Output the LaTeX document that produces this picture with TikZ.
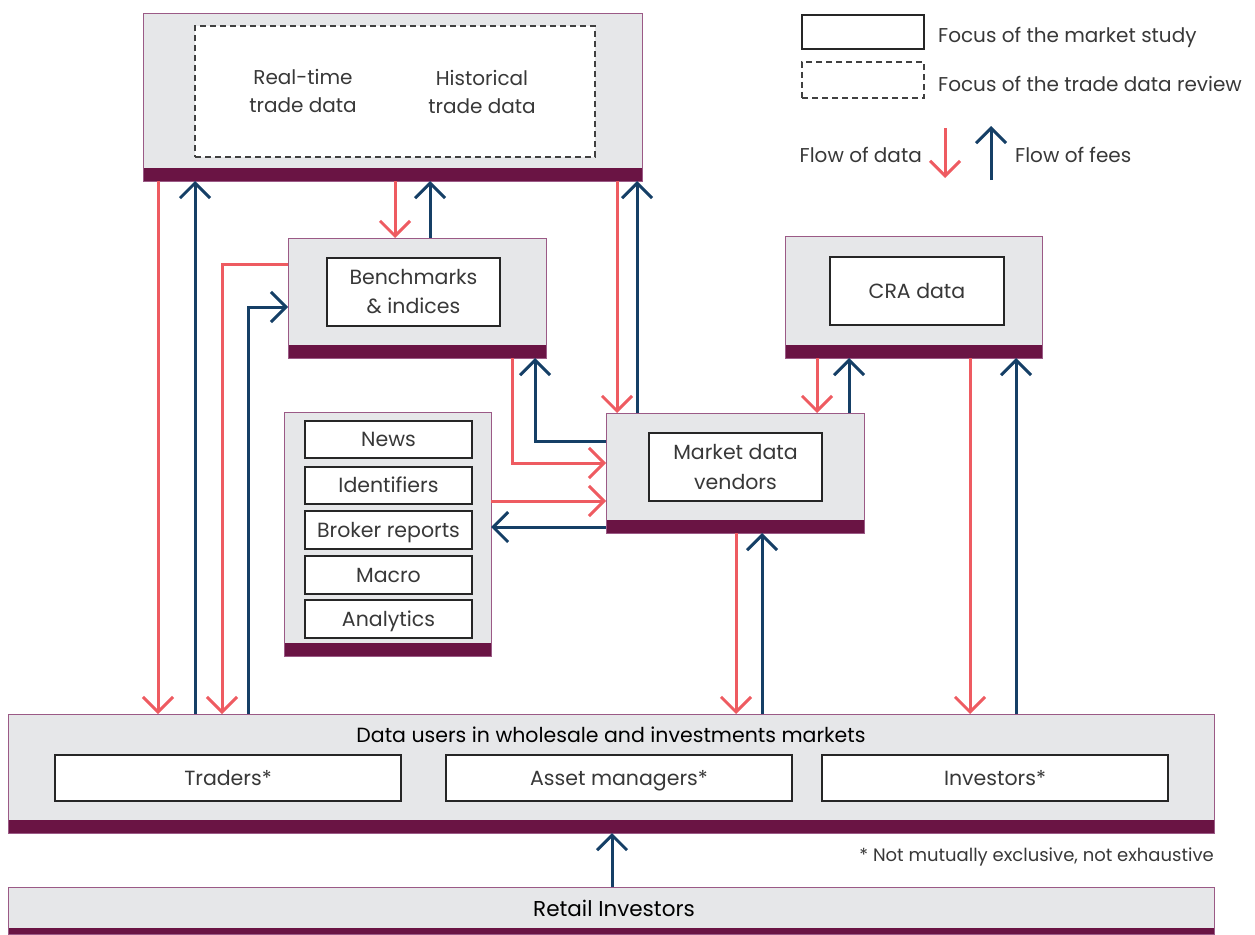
\documentclass[tikz,border=0pt]{standalone}
\usepackage{fontspec}
\setmainfont{Poppins}
\usetikzlibrary{arrows.meta}
\definecolor{fcagray}{HTML}{E6E7E9}
\definecolor{fcapurple}{HTML}{6A1444}
\definecolor{fcaedge}{HTML}{9B5A86}
\definecolor{datared}{HTML}{EE5B61}
\definecolor{feeblue}{HTML}{153F66}
\definecolor{txt}{HTML}{383838}
\begin{document}
\begin{tikzpicture}[x=1pt,y=-1pt,
  lbl/.style={font=\fontsize{20}{28.5}\selectfont, text=txt, align=center, inner sep=0},
  oneline/.style={text height=17pt, text depth=3pt},
  panel/.style={draw=fcaedge, line width=1pt, fill=fcagray, inner sep=0, outer sep=0, anchor=north west,
    path picture={\fill[fcapurple] (path picture bounding box.south west) rectangle ([yshift=13pt]path picture bounding box.south east);}},
  thinpanel/.style={draw=fcaedge, line width=1pt, fill=fcagray, inner sep=0, outer sep=0, anchor=north west,
    path picture={\fill[fcapurple] (path picture bounding box.south west) rectangle ([yshift=6pt]path picture bounding box.south east);}},
  inbox/.style={draw=black!85, line width=1.3pt, fill=white, inner sep=0, outer sep=0, anchor=north west,
    font=\fontsize{20.5}{29}\selectfont, text=txt, align=center},
  dashbox/.style={draw=black!75, line width=1.3pt, dash pattern=on 6pt off 4pt, fill=white, inner sep=0, outer sep=0, anchor=north west},
  dataflow/.style={draw=datared, line width=3pt, -{Straight Barb[length=15pt,width=30pt]}},
  feeflow/.style={draw=feeblue, line width=3pt, -{Straight Barb[length=15pt,width=30pt]}}
]
\useasboundingbox (0,0) rectangle (1255,934);

% top trade data panel
\node[panel, minimum width=499pt, minimum height=167pt] (trade) at (143,14) {};
\node[dashbox, minimum width=400pt, minimum height=131pt] (tdr) at (195,26) {};
\node[lbl] (rt) at (303,91) {Real-time\\trade data};
\node[lbl] (ht) at (482,92) {Historical\\trade data};

% legend
\node[inbox, minimum width=122pt, minimum height=34pt] (lg1) at (802,15) {};
\node[lbl, oneline, anchor=west] (lt1) at (938,36) {Focus of the market study};
\node[dashbox, minimum width=122pt, minimum height=36pt] (lg2) at (802,62) {};
\node[lbl, oneline, anchor=west] (lt2) at (938,85) {Focus of the trade data review};
\node[lbl, oneline, anchor=east] (lt3) at (922,155) {Flow of data};
\node[lbl, oneline, anchor=west] (lt4) at (1015,155) {Flow of fees};
\coordinate (ld1) at (945,128);
\coordinate (ld2) at (945,178);
\coordinate (lf1) at (991,180);
\coordinate (lf2) at (991,126);
\draw[dataflow] (ld1) -- (ld2);
\draw[feeflow] (lf1) -- (lf2);

% benchmarks
\node[panel, minimum width=258pt, minimum height=120pt] (bench) at (288,238) {};
\node[inbox, minimum width=173pt, minimum height=68pt] (benchin) at (327,258) {Benchmarks\\\& indices};

% CRA
\node[panel, minimum width=257pt, minimum height=122pt] (cra) at (785,236) {};
\node[inbox, oneline, minimum width=174pt, minimum height=68pt] (crain) at (830,257) {CRA data};

% market data vendors
\node[panel, minimum width=258pt, minimum height=120pt] (mdv) at (606,413) {};
\node[inbox, minimum width=173pt, minimum height=68pt] (mdvin) at (649,433) {Market data\\[1pt]vendors};

% other data stack
\node[panel, minimum width=207pt, minimum height=244pt] (other) at (284,412) {};
\node[inbox, oneline, minimum width=167pt, minimum height=37pt] (news) at (305,421) {News};
\node[inbox, oneline, minimum width=167pt, minimum height=37pt] (ident) at (305,467) {Identifiers};
\node[inbox, oneline, minimum width=167pt, minimum height=38pt] (broker) at (305,511) {Broker reports};
\node[inbox, oneline, minimum width=167pt, minimum height=38pt] (macro) at (305,556) {Macro};
\node[inbox, oneline, minimum width=167pt, minimum height=38pt] (analytics) at (305,600) {Analytics};

% data users
\node[panel, minimum width=1206pt, minimum height=119pt] (users) at (8,714) {};
\node[lbl, oneline, font=\fontsize{20.5}{28}\selectfont, text=black] (ut) at (611,735) {Data users in wholesale and investments markets};
\node[inbox, oneline, minimum width=346pt, minimum height=46pt] (tr) at (55,755) {Traders*};
\node[inbox, oneline, minimum width=346pt, minimum height=46pt] (am) at (446,755) {Asset managers*};
\node[inbox, oneline, minimum width=346pt, minimum height=46pt] (inv) at (822,755) {Investors*};
\node[lbl, oneline, font=\fontsize{18}{24}\selectfont, anchor=east] (fn) at (1214,854) {* Not mutually exclusive, not exhaustive};

% retail
\node[thinpanel, minimum width=1206pt, minimum height=47pt] (retail) at (8,887) {};
\node[lbl, oneline, font=\fontsize{21.5}{28}\selectfont, text=black] (rtt) at (614,909) {Retail Investors};

% flows
\draw[dataflow] ([xshift=15pt]trade.south west) -- ([xshift=150pt]users.north west);
\draw[feeflow] ([xshift=187pt]users.north west) -- ([xshift=52pt]trade.south west);
\draw[dataflow] ([yshift=-26pt]bench.north west) -| ([xshift=214pt]users.north west);
\draw[feeflow] ([xshift=240pt]users.north west) |- ([yshift=-69pt]bench.north west);
\draw[dataflow] ([xshift=252pt]trade.south west) -- ([xshift=107pt]bench.north west);
\draw[feeflow] ([xshift=142pt]bench.north west) -- ([xshift=287pt]trade.south west);
\draw[dataflow] ([xshift=474pt]trade.south west) -- ([xshift=11pt]mdv.north west);
\draw[feeflow] ([xshift=31pt]mdv.north west) -- ([xshift=494pt]trade.south west);
\draw[dataflow] ([xshift=224pt]bench.south west) |- ([yshift=-50pt]mdv.north west);
\draw[feeflow] ([yshift=-28pt]mdv.north west) -| ([xshift=247pt]bench.south west);
\draw[dataflow] ([yshift=-89pt]other.north east) -- ([yshift=-88pt]mdv.north west);
\draw[feeflow] ([yshift=-114pt]mdv.north west) -- ([yshift=-115pt]other.north east);
\draw[dataflow] ([xshift=32pt]cra.south west) -- ([xshift=211pt]mdv.north west);
\draw[feeflow] ([xshift=243pt]mdv.north west) -- ([xshift=64pt]cra.south west);
\draw[dataflow] ([xshift=130pt]mdv.south west) -- ([xshift=728pt]users.north west);
\draw[feeflow] ([xshift=754pt]users.north west) -- ([xshift=156pt]mdv.south west);
\draw[dataflow] ([xshift=185pt]cra.south west) -- ([xshift=962pt]users.north west);
\draw[feeflow] ([xshift=1008pt]users.north west) -- ([xshift=231pt]cra.south west);
\draw[feeflow] ([xshift=604pt]retail.north west) -- ([xshift=604pt]users.south west);
\end{tikzpicture}
\end{document}
